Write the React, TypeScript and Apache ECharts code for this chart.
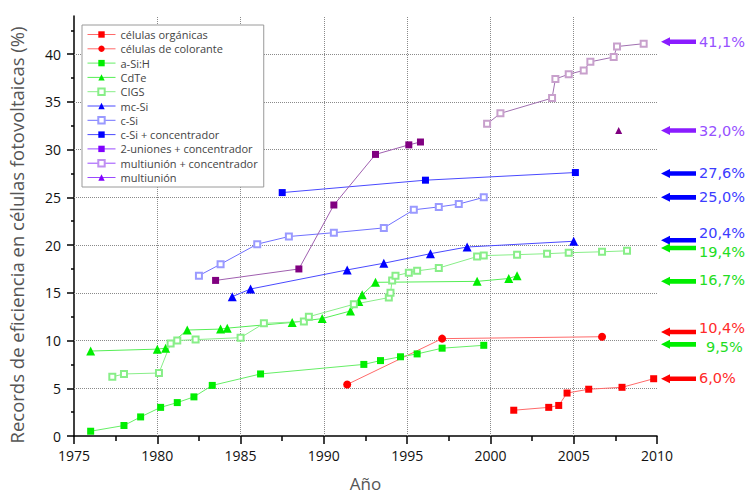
import React, { useEffect, useRef } from "react";
import * as echarts from "echarts";

// ---- data: [year, efficiency %] ----
const organicas = [[2001.4, 2.7], [2003.5, 3.0], [2004.1, 3.2], [2004.6, 4.5], [2005.9, 4.9], [2007.9, 5.1], [2009.8, 6.0]];
const colorante = [[1991.4, 5.4], [1997.1, 10.2], [2006.7, 10.4]];
const aSiH = [[1976.0, 0.5], [1978.0, 1.1], [1979.0, 2.0], [1980.2, 3.0], [1981.2, 3.5], [1982.2, 4.1], [1983.3, 5.3], [1986.2, 6.5], [1992.4, 7.5], [1993.4, 7.9], [1994.6, 8.3], [1995.6, 8.6], [1997.1, 9.2], [1999.6, 9.5]];
const cdte = [[1976.0, 8.9], [1980.0, 9.1], [1980.5, 9.2], [1981.8, 11.1], [1983.8, 11.2], [1984.2, 11.3], [1988.1, 11.9], [1989.9, 12.3], [1991.6, 13.1], [1992.1, 14.1], [1992.3, 14.8], [1993.1, 16.1], [1999.2, 16.2], [2001.1, 16.5], [2001.6, 16.8]];
const cigs = [[1977.3, 6.2], [1978.0, 6.5], [1980.1, 6.6], [1980.8, 9.7], [1981.2, 10.0], [1982.3, 10.1], [1985.0, 10.3], [1986.4, 11.8], [1988.8, 12.0], [1989.1, 12.5], [1991.8, 13.8], [1993.9, 14.5], [1994.0, 15.0], [1994.1, 16.3], [1994.3, 16.8], [1995.1, 17.1], [1995.6, 17.3], [1996.9, 17.6], [1999.2, 18.8], [1999.6, 18.9], [2001.6, 19.0], [2003.4, 19.1], [2004.7, 19.2], [2006.7, 19.3], [2008.2, 19.4]];
const mcSi = [[1984.5, 14.6], [1985.6, 15.4], [1991.4, 17.4], [1993.6, 18.1], [1996.4, 19.1], [1998.6, 19.8], [2005.0, 20.4]];
const cSi = [[1982.5, 16.8], [1983.8, 18.0], [1986.0, 20.1], [1987.9, 20.9], [1990.6, 21.3], [1993.6, 21.8], [1995.4, 23.7], [1996.9, 24.0], [1998.1, 24.3], [1999.6, 25.0]];
const cSiConc = [[1987.5, 25.5], [1996.1, 26.8], [2005.1, 27.6]];
const dosUniones = [[1983.5, 16.3], [1988.5, 17.5], [1990.6, 24.2], [1993.1, 29.5], [1995.1, 30.5], [1995.8, 30.8]];
const multiConc = [[1999.8, 32.7], [2000.6, 33.8], [2003.7, 35.4], [2003.9, 37.4], [2004.7, 37.9], [2005.6, 38.3], [2006.0, 39.2], [2007.4, 39.7], [2007.6, 40.8], [2009.2, 41.1]];
const multi = [[2007.7, 32.0]];

const seriesNames = [
  "células orgánicas", "células de colorante", "a-Si:H", "CdTe", "CIGS", "mc-Si",
  "c-Si", "c-Si + concentrador", "2-uniones + concentrador", "multiunión + concentrador", "multiunión",
];

const xTicks = [1975, 1980, 1985, 1990, 1995, 2000, 2005, 2010];
const yTicks = [0, 5, 10, 15, 20, 25, 30, 35, 40];
const yMinorTicks = [2.5, 7.5, 12.5, 17.5, 22.5, 27.5, 32.5, 37.5, 42.5];

// record annotations on the right
const recordLabels = ["41,1%", "32,0%", "27,6%", "25,0%", "20,4%", "19,4%", "16,7%", "10,4%", "9,5%", "6,0%"];
const recordSeries = ["multiunión + concentrador", "multiunión", "c-Si + concentrador", "c-Si", "mc-Si", "CIGS", "CdTe", "células de colorante", "a-Si:H", "células orgánicas"];
const arrowValues = [41.3, 32.0, 27.5, 25.0, 20.5, 19.7, 16.2, 10.9, 9.6, 6.0];
const labelValues = [41.3, 32.0, 27.6, 25.0, 21.3, 19.3, 16.3, 11.3, 9.35, 6.05];

const FONT = "'Open Sans', 'DejaVu Sans', sans-serif";

type Style = { symbol: string; size: number; color: string; line: string; legendColor?: string; legendLine?: string };
const styles: Record<string, Style> = {
  "células orgánicas": { symbol: "rect", size: 7, color: "#ff0000", line: "#ff6a6a" },
  "células de colorante": { symbol: "circle", size: 8, color: "#ff0000", line: "#ff6a6a" },
  "a-Si:H": { symbol: "rect", size: 7, color: "#00ee00", line: "#66ee66" },
  "CdTe": { symbol: "triangle", size: 9, color: "#00ee00", line: "#55ee55" },
  "CIGS": { symbol: "emptyRect", size: 6, color: "#88ee88", line: "#88ee88" },
  "mc-Si": { symbol: "triangle", size: 9, color: "#0000ff", line: "#4a4aff" },
  "c-Si": { symbol: "emptyRect", size: 6, color: "#9a9aff", line: "#7070ff" },
  "c-Si + concentrador": { symbol: "rect", size: 7, color: "#0000ff", line: "#4a4aff" },
  "2-uniones + concentrador": { symbol: "rect", size: 7, color: "#800080", line: "#a060b0", legendColor: "#8000ff", legendLine: "#9a4aff" },
  "multiunión + concentrador": { symbol: "emptyRect", size: 6, color: "#c8a0cc", line: "#a070b0", legendColor: "#c090f0", legendLine: "#9a4aff" },
  "multiunión": { symbol: "triangle", size: 7, color: "#800080", line: "#a060b0", legendColor: "#8000ff", legendLine: "#9a4aff" },
};
const seriesData: Record<string, number[][]> = {
  "células orgánicas": organicas,
  "células de colorante": colorante,
  "a-Si:H": aSiH,
  "CdTe": cdte,
  "CIGS": cigs,
  "mc-Si": mcSi,
  "c-Si": cSi,
  "c-Si + concentrador": cSiConc,
  "2-uniones + concentrador": dosUniones,
  "multiunión + concentrador": multiConc,
  "multiunión": multi,
};
const annotationColors: Record<string, [string, string]> = {
  "multiunión + concentrador": ["#8a1cff", "#9650ff"],
  "multiunión": ["#8a1cff", "#9650ff"],
  "c-Si + concentrador": ["#0000ff", "#3c3cff"],
  "c-Si": ["#0000ff", "#3c3cff"],
  "mc-Si": ["#0000ff", "#3c3cff"],
  "CIGS": ["#00ee00", "#22dd22"],
  "CdTe": ["#00ee00", "#22dd22"],
  "a-Si:H": ["#00ee00", "#22dd22"],
  "células de colorante": ["#ff0000", "#ff2a2a"],
  "células orgánicas": ["#ff0000", "#ff2a2a"],
};

export default function App() {
  const ref = useRef<HTMLDivElement>(null);
  useEffect(() => {
    document.body.style.margin = "0";
    if (!ref.current) return;
    const chart = echarts.init(ref.current, undefined, { renderer: "svg" });
    const gridLine = { type: "dotted" as const, color: "#8a8a8a", width: 1 };

    const series: any[] = seriesNames.map((name, i) => {
      const s = styles[name];
      const item: any = {
        name,
        type: "line",
        data: seriesData[name],
        symbol: s.symbol,
        symbolSize: s.size,
        showSymbol: true,
        lineStyle: { color: s.line, width: 1 },
        itemStyle: { color: s.color, borderWidth: 1 },
        emphasis: { disabled: true },
        z: 3,
      };
      if (i === 0) {
        item.markLine = {
          silent: true,
          symbol: "none",
          label: { show: false },
          lineStyle: gridLine,
          z: 1,
          data: [
            ...yTicks.filter((v) => v > 0).map((v) => ({ yAxis: v })),
            ...xTicks.filter((v) => v > 1975 && v < 2010).map((v) => ({ xAxis: v })),
          ],
        };
      }
      return item;
    });

    chart.setOption({
      animation: false,
      backgroundColor: "#ffffff",
      textStyle: { fontFamily: FONT },
      grid: { left: 74, right: 91, top: 16, bottom: 60, containLabel: false, outerBoundsMode: "none" },
      legend: {
        orient: "vertical",
        left: 82,
        top: 25,
        backgroundColor: "#ffffff",
        borderColor: "#9a9a9a",
        borderWidth: 1,
        borderRadius: 0,
        padding: [4, 6, 4, 5],
        itemWidth: 28,
        itemHeight: 8,
        itemGap: 3.3,
        textStyle: { fontSize: 11, color: "#444", fontFamily: FONT },
        data: seriesNames.map((name) => {
          const s = styles[name];
          return {
            name,
            itemStyle: { color: s.legendColor || s.color },
            lineStyle: { color: s.legendLine || s.line, width: 1 },
          };
        }),
      },
      xAxis: [
        {
          type: "value",
          min: 1975,
          max: 2010,
          interval: 5,
          name: "Año",
          nameLocation: "middle",
          nameGap: 39,
          nameTextStyle: { fontSize: 17, color: "#555", fontFamily: FONT },
          axisLine: { show: true, onZero: false, lineStyle: { color: "#000", width: 1.5 } },
          axisTick: { show: true, inside: false, length: 8, lineStyle: { color: "#000", width: 1.5 } },
          minorTick: { show: true, splitNumber: 2, length: 5, lineStyle: { color: "#000", width: 1.5 } },
          axisLabel: { fontSize: 14, color: "#111", margin: 12, fontFamily: FONT, formatter: (v: number) => String(v) },
          splitLine: { show: false },
        },
      ],
      yAxis: [
        {
          type: "value",
          min: 0,
          max: 44,
          interval: 5,
          name: "Records de eficiencia en células fotovoltaicas (%)",
          nameLocation: "middle",
          nameGap: 48,
          nameTextStyle: { fontSize: 18.5, color: "#555", fontFamily: FONT, padding: [0, 18, 0, 0] },
          axisLine: { show: true, onZero: false, lineStyle: { color: "#000", width: 1.5 } },
          axisTick: { show: true, inside: false, length: 7, customValues: yTicks, lineStyle: { color: "#000", width: 1.5 } },
          axisLabel: { fontSize: 14, color: "#111", margin: 13, customValues: yTicks, fontFamily: FONT, formatter: (v: number) => String(v) },
          splitLine: { show: false },
        },
        {
          type: "value",
          min: 0,
          max: 44,
          position: "left",
          offset: 0,
          axisLine: { show: false },
          axisTick: { show: true, inside: false, length: 3, customValues: yMinorTicks, lineStyle: { color: "#000", width: 1.5 } },
          axisLabel: { show: false },
          splitLine: { show: false },
        },
      ],
      series,
    });

    const xHead = (chart.convertToPixel({ xAxisIndex: 0 }, 2010) as number) + 4;
    const graphics: any[] = [];
    recordLabels.forEach((label, i) => {
      const [arrowColor, textColor] = annotationColors[recordSeries[i]];
      const ya = chart.convertToPixel({ yAxisIndex: 0 }, arrowValues[i]) as number;
      const yt = chart.convertToPixel({ yAxisIndex: 0 }, labelValues[i]) as number;
      graphics.push({
        type: "polygon",
        shape: {
          points: [
            [xHead, ya],
            [xHead + 9, ya - 4.5],
            [xHead + 9, ya - 2.3],
            [xHead + 35, ya - 2.3],
            [xHead + 35, ya + 2.3],
            [xHead + 9, ya + 2.3],
            [xHead + 9, ya + 4.5],
          ],
        },
        style: { fill: arrowColor },
        z: 10,
      });
      graphics.push({
        type: "text",
        x: xHead + 38 + (label === "9,5%" ? 7 : 0),
        y: yt,
        style: {
          text: label,
          fill: textColor,
          font: "14.5px 'DejaVu Sans', sans-serif",
          textAlign: "left",
          textVerticalAlign: "middle",
        },
        z: 10,
      });
    });
    chart.setOption({ graphic: graphics });

    return () => chart.dispose();
  }, []);
  return <div ref={ref} style={{ width: 748, height: 496 }} />;
}
